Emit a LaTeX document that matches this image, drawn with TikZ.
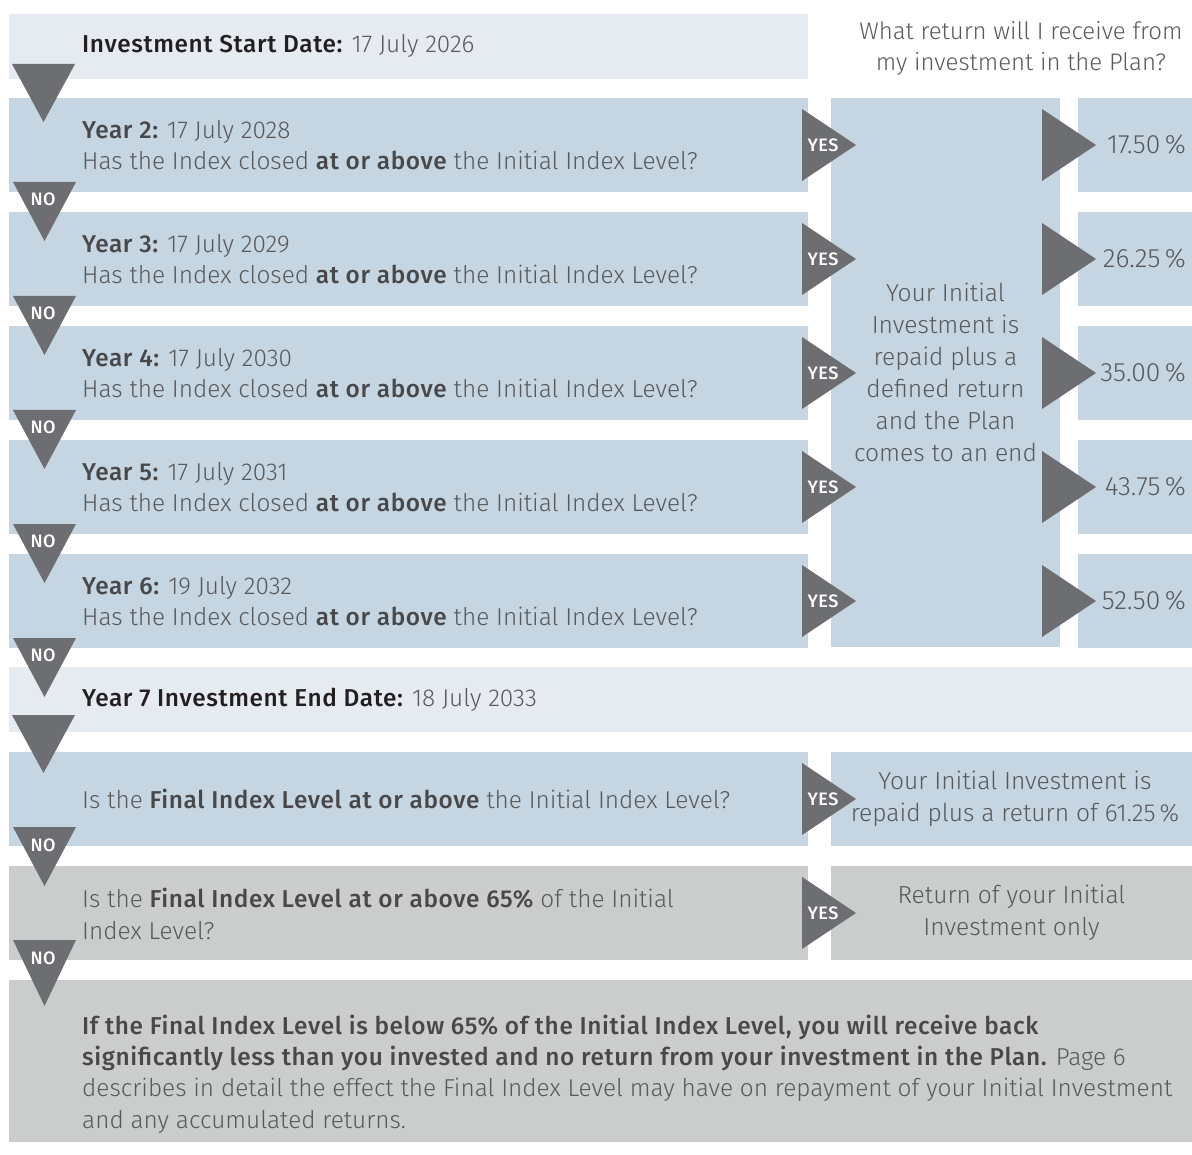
\documentclass[tikz,border=0pt]{standalone}
\usepackage{fontspec}
\setmainfont{Fira Sans}[UprightFont={* Light}, BoldFont={* Medium}, BoldFeatures={LetterSpace=2.5}]
\usepackage{xcolor}
\usepackage{tikz}
\usetikzlibrary{positioning}

\definecolor{startblue}{HTML}{E6EBF2}
\definecolor{rowblue}{HTML}{C5D5E1}
\definecolor{rowgrey}{HTML}{CBCCCC}
\definecolor{arrowgrey}{HTML}{6D6E71}
\definecolor{textgrey}{HTML}{58595B}
\definecolor{labelgrey}{HTML}{48484A}
\definecolor{nearblack}{HTML}{231F20}

\tikzset{
  box/.style={anchor=north west, inner sep=0pt, outer sep=0pt},
  txt/.style={anchor=west, align=left, inner sep=0pt, text=textgrey, font=\fontsize{24.4}{31.3}\selectfont},
  ctxt/.style={align=center, inner sep=0pt, text=textgrey, font=\fontsize{24.6}{32}\selectfont},
  pcttxt/.style={anchor=east, inner sep=0pt, text=textgrey, font=\fontsize{26.5}{27}\selectfont},
  tag/.style={inner sep=0pt, text=white, font=\fontsize{18}{18}\selectfont\bfseries},
}

\newcommand{\downtri}[3]{\fill[arrowgrey] (#1,#2) -- ++(63,0) -- ++(-31.5,#3) -- cycle;}
\newcommand{\righttri}[2]{\fill[arrowgrey] (#1,#2-36) -- ++(54,36) -- ++(-54,36) -- cycle;}

\begin{document}
\begin{tikzpicture}[x=1pt, y=-1pt]
  \useasboundingbox (0,0) rectangle (1192,1155);
  % boxes
  \node[box, fill=startblue, minimum width=799pt, minimum height=65pt] (start) at (9,14) {};
  \node[box, fill=rowblue, minimum width=229pt, minimum height=549pt] (plan) at (831,98) {};
  \foreach \n [count=\i from 0] in {2,...,6} {
    \pgfmathsetmacro{\ytop}{98+114*\i}
    \node[box, fill=rowblue, minimum width=799pt, minimum height=94pt] (year\n) at (9,\ytop) {};
    \node[box, fill=rowblue, minimum width=114pt, minimum height=94pt] (res\n) at (1078,\ytop) {};
  }
  \node[box, fill=startblue, minimum width=1183pt, minimum height=65pt] (end) at (9,667) {};
  \node[box, fill=rowblue, minimum width=799pt, minimum height=94pt] (final) at (9,752) {};
  \node[box, fill=rowblue, minimum width=361pt, minimum height=94pt] (finalres) at (831,752) {};
  \node[box, fill=rowgrey, minimum width=799pt, minimum height=94pt] (barrier) at (9,866) {};
  \node[box, fill=rowgrey, minimum width=361pt, minimum height=94pt] (barrierres) at (831,866) {};
  \node[box, fill=rowgrey, minimum width=1183pt, minimum height=162pt] (loss) at (9,980) {};

  % texts
  \node[txt] (starttxt) at (82,46) {{\bfseries\color{nearblack}Investment Start Date:} 17 July 2026};
  \node[ctxt, font=\fontsize{24}{31}\selectfont] (question) at (1021,48) {What return will I receive from\\my investment in the Plan?};
  \node[ctxt] (plantxt) at (plan.center) {Your Initial\\Investment is\\repaid plus a\\defined return\\and the Plan\\comes to an end};
  \foreach \n/\dt/\pc [count=\i from 0] in {2/17 July 2028/17.50, 3/17 July 2029/26.25, 4/17 July 2030/35.00, 5/17 July 2031/43.75, 6/19 July 2032/52.50} {
    \pgfmathsetmacro{\ymid}{145+114*\i}
    \node[txt] (ask\n) at (82,\ymid) {{\bfseries\color{labelgrey}Year \n:} \dt\\Has the Index closed {\bfseries\color{labelgrey}at or above} the Initial Index Level?};
    \righttri{802}{\ymid}
    \node[tag] (yes\n) at (823,\ymid) {YES};
    \righttri{1042}{\ymid}
    \node[pcttxt] (pct\n) at (1186,\ymid) {\pc\,\%};
    \downtri{13}{\ymid-47+84}{59}
    \node[tag] (no\n) at (43,\ymid-47+101) {NO};
  }
  \node[txt] (endtxt) at (82,700) {{\bfseries\color{nearblack}Year 7 Investment End Date:} 18 July 2033};
  \node[txt] (finaltxt) at (82,799) {Is the {\bfseries\color{labelgrey}Final Index Level at or above} the Initial Index Level?};
  \node[ctxt] (finalrestxt) at (1015,799) {Your Initial Investment is\\repaid plus a return of 61.25\,\%};
  \node[txt] (barriertxt) at (82,914) {Is the {\bfseries\color{labelgrey}Final Index Level at or above 65\%} of the Initial\\Index Level?};
  \node[ctxt] (barrierrestxt) at (barrierres.center) {Return of your Initial\\Investment only};
  \node[txt] (losstxt) at (82,1074) {{\bfseries\color{labelgrey}If the Final Index Level is below 65\% of the Initial Index Level, you will receive back}\\{\bfseries\color{labelgrey}significantly less than you invested and no return from your investment in the Plan.} Page 6\\describes in detail the effect the Final Index Level may have on repayment of your Initial Investment\\and any accumulated returns.};

  % arrows
  \downtri{12}{64}{58}
  \downtri{12}{715}{58}
  \righttri{802}{799}
  \node[tag] (yesfinal) at (823,799) {YES};
  \downtri{13}{827}{59}
  \node[tag] (nofinal) at (43,845) {NO};
  \righttri{802}{913}
  \node[tag] (yesbarrier) at (823,913) {YES};
  \downtri{13}{940}{66}
  \node[tag] (nobarrier) at (43,958) {NO};
\end{tikzpicture}
\end{document}
